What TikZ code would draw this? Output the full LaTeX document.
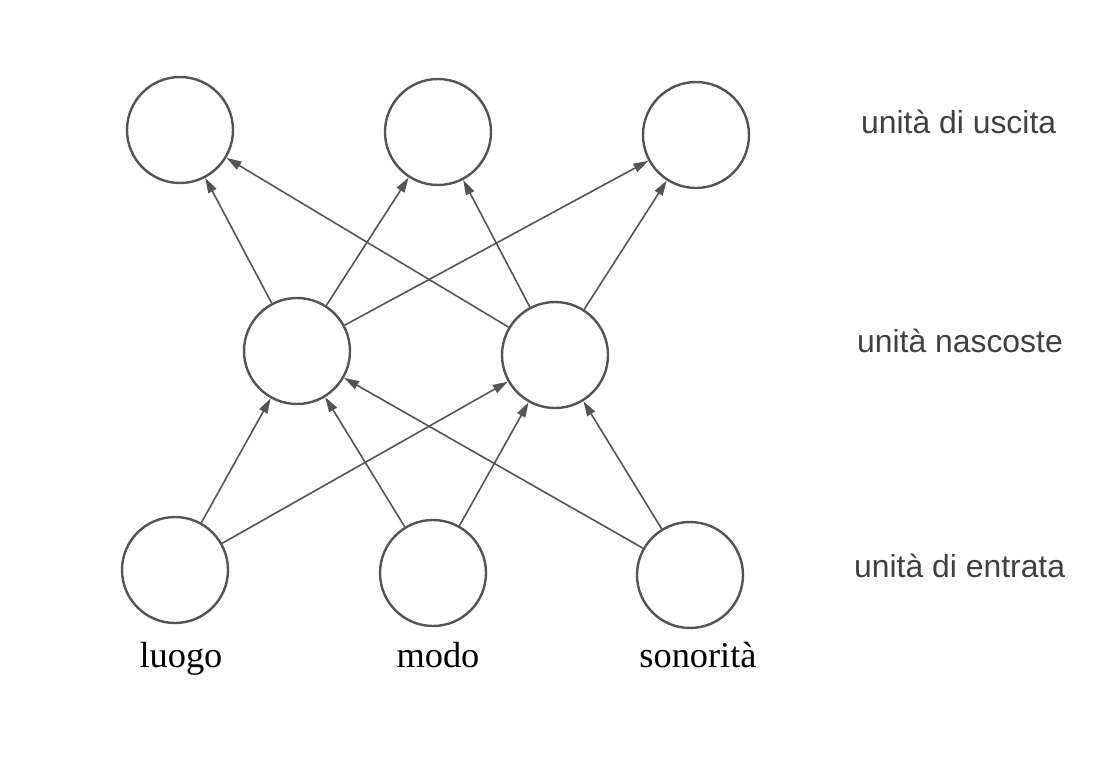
\documentclass[tikz,border=0pt]{standalone}
\usepackage{fontspec}
\setmainfont{Liberation Serif}
\newfontfamily\labelsans{Liberation Sans}
\usetikzlibrary{arrows.meta}
\definecolor{inkgray}{rgb}{0.33,0.33,0.33}
\definecolor{labgray}{rgb}{0.25,0.25,0.25}
\begin{document}
\begin{tikzpicture}[x=1bp,y=-1bp,
  unit/.style={circle,draw=inkgray,line width=2.4bp,minimum size=106bp,inner sep=0pt,fill=white},
  conn/.style={draw=inkgray,line width=1.6bp,-{Triangle[length=15bp,width=9bp]}},
  layerlab/.style={anchor=base west,inner sep=0pt,text=labgray,font=\labelsans\fontsize{32}{37}\selectfont},
  inlab/.style={anchor=base,inner sep=0pt,font=\fontsize{36.5}{42}\selectfont}]
\useasboundingbox (0,0) rectangle (1115,757);
% output units
\node[unit] (o1) at (180,130) {};
\node[unit] (o2) at (438,132) {};
\node[unit] (o3) at (696,135) {};
% hidden units
\node[unit] (h1) at (297,351) {};
\node[unit] (h2) at (555,355) {};
% input units
\node[unit] (i1) at (175,570) {};
\node[unit] (i2) at (433,573) {};
\node[unit] (i3) at (690,575) {};
% connections input -> hidden
\foreach \a in {i1,i2,i3}{
  \foreach \b in {h1,h2}{
    \draw[conn] (\a) -- (\b);
  }
}
% connections hidden -> output
\foreach \a in {h1,h2}{
  \foreach \b in {o1,o2,o3}{
    \draw[conn] (\a) -- (\b);
  }
}
% layer labels
\node[layerlab] (lo) at (861,133) {unità di uscita};
\node[layerlab] (lh) at (857,352) {unità nascoste};
\node[layerlab] (li) at (854,577) {unità di entrata};
% input labels
\node[inlab] (t1) at (181,667) {luogo};
\node[inlab] (t2) at (438,667) {modo};
\node[inlab] (t3) at (698,667) {sonorità};
\end{tikzpicture}
\end{document}
